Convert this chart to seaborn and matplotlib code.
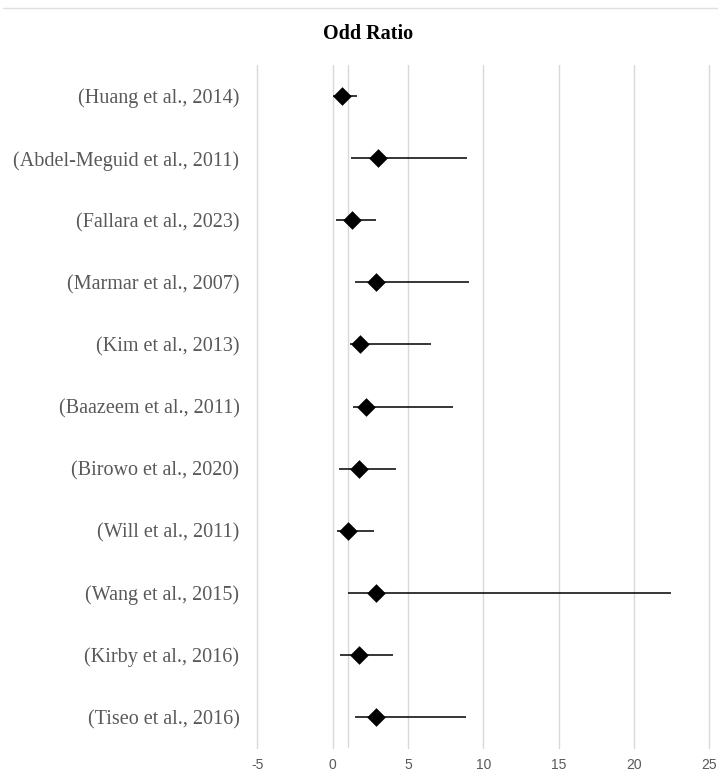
import matplotlib
matplotlib.use("Agg")
import matplotlib.pyplot as plt
from matplotlib.lines import Line2D
import seaborn as sns
import pandas as pd

studies = [
    "(Huang et al., 2014)",
    "(Abdel-Meguid et al., 2011)",
    "(Fallara et al., 2023)",
    "(Marmar et al., 2007)",
    "(Kim et al., 2013)",
    "(Baazeem et al., 2011)",
    "(Birowo et al., 2020)",
    "(Will et al., 2011)",
    "(Wang et al., 2015)",
    "(Kirby et al., 2016)",
    "(Tiseo et al., 2016)",
]
odds_ratio = [0.64, 3.03, 1.30, 2.87, 1.81, 2.23, 1.75, 1.02, 2.85, 1.77, 2.87]
ci_low = [0.00, 1.19, 0.24, 1.50, 1.13, 1.37, 0.40, 0.31, 0.99, 0.46, 1.50]
ci_high = [1.59, 8.93, 2.87, 9.02, 6.54, 7.98, 4.22, 2.72, 22.45, 4.00, 8.87]
x_ticks = [-5, 0, 5, 10, 15, 20, 25]
ref_line = 1

df = pd.DataFrame({"study": studies, "or": odds_ratio, "lo": ci_low, "hi": ci_high})

sns.set_theme(style="white")
plt.rcParams["font.family"] = ["Liberation Serif", "DejaVu Serif"]

fig = plt.figure(figsize=(7.18, 7.74), dpi=100)
ax = fig.add_axes([257.5 / 718, 1 - 748 / 774, (709.3 - 257.5) / 718, (748 - 65) / 774])

# grid lines
for t in x_ticks:
    ax.axvline(t, color="#d9d9d9", lw=1.0, zorder=0, clip_on=False)
ax.axvline(ref_line, color="#d9d9d9", lw=1.0, zorder=0)

sns.stripplot(data=df, x="or", y="study", order=studies, orient="h", jitter=False,
              marker="D", s=9.5, color="black", linewidth=0, ax=ax, zorder=3)
ypos = list(range(len(studies)))
ax.hlines(ypos, df["lo"], df["hi"], color="black", lw=1.1, zorder=2)

ax.set_xlim(-5, 25)
ax.set_ylim(len(studies) - 0.5, -0.5)
ax.set_xticks(x_ticks)
ax.set_xticklabels([str(t) for t in x_ticks], family=["Liberation Sans", "DejaVu Sans"],
                   fontsize=10, color="#595959")
ax.set_yticks(ypos)
ax.set_yticklabels(studies, fontsize=14.5, color="#595959")
ax.tick_params(axis="y", length=0, pad=13)
ax.tick_params(axis="x", length=0, pad=7)
ax.set_xlabel("")
ax.set_ylabel("")
for sp in ax.spines.values():
    sp.set_visible(False)

fig.text(368 / 718, 1 - 34 / 774, "Odd Ratio", ha="center", va="center",
         fontsize=14.5, fontweight="bold", color="black")
fig.add_artist(Line2D([3 / 718, 1.0], [1 - 8 / 774, 1 - 8 / 774], color="#e0e0e0", lw=1.0))

fig.savefig("out.png", dpi=100, facecolor="white")
